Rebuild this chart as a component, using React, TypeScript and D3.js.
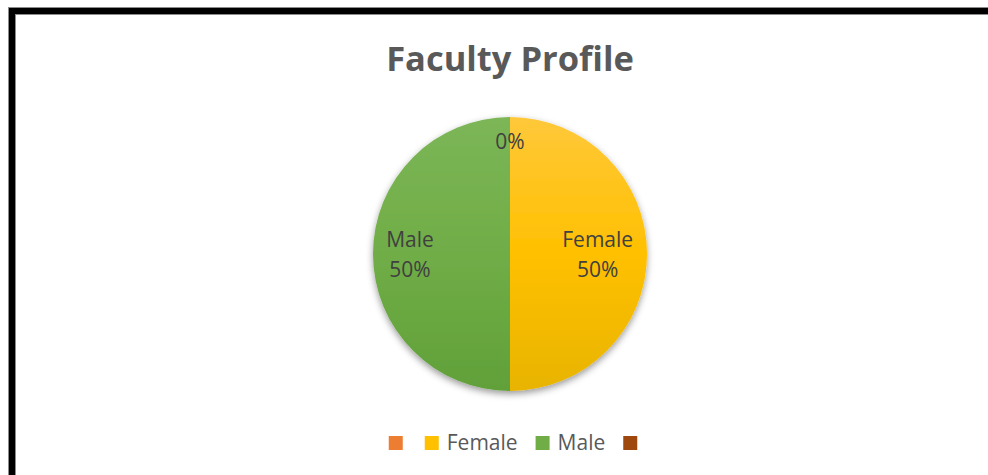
import React, { useEffect, useRef } from "react"
import * as d3 from "d3"

// chart data
const categories = ["", "Female", "Male", ""]
const values = [0, 50, 50, 0]
const showLabel = [true, true, true, false]
const colors = ["#ED7D31", "#FFC000", "#70AD47", "#9E480E"]
const lightColors = ["#F29A5C", "#FFC83A", "#7CB657", "#B0561A"]
const darkColors = ["#DC6C20", "#E8B400", "#61A039", "#8E3E0A"]
// label distance from centre, as a fraction of the radius
const labelRadius = [0.82, 0.64, 0.73, 0.82]

function App() {
  const svgRef = useRef<SVGSVGElement>(null)

  useEffect(() => {
    const WIDTH = 988
    const HEIGHT = 475
    const svg = d3.select(svgRef.current)
      .attr("width", WIDTH)
      .attr("height", HEIGHT)
    svg.selectAll("*").remove()

    const CX = 510
    const CY = 254
    const R = 137

    svg.append("rect")
      .attr("width", WIDTH).attr("height", HEIGHT).attr("fill", "#fff")

    // frame
    svg.append("rect")
      .attr("x", 12).attr("y", 11)
      .attr("width", 1200).attr("height", 800)
      .attr("fill", "none").attr("stroke", "#8c8c8c").attr("stroke-width", 8)
    svg.append("rect")
      .attr("x", 12).attr("y", 11)
      .attr("width", 1200).attr("height", 800)
      .attr("fill", "none").attr("stroke", "#000").attr("stroke-width", 6)

    const defs = svg.append("defs")
    const filter = defs.append("filter").attr("id", "shadow")
      .attr("x", "-20%").attr("y", "-20%").attr("width", "140%").attr("height", "140%")
    filter.append("feDropShadow")
      .attr("dx", 0).attr("dy", 3).attr("stdDeviation", 3.5)
      .attr("flood-color", "#000").attr("flood-opacity", 0.4)

    // gradients in the pie group's local coordinates
    colors.forEach((c, i) => {
      const g = defs.append("linearGradient")
        .attr("id", "grad" + i)
        .attr("gradientUnits", "userSpaceOnUse")
        .attr("x1", 0).attr("y1", -R).attr("x2", 0).attr("y2", R)
      g.append("stop").attr("offset", "0%").attr("stop-color", lightColors[i])
      g.append("stop").attr("offset", "50%").attr("stop-color", c)
      g.append("stop").attr("offset", "100%").attr("stop-color", darkColors[i])
    })

    // title
    svg.append("text")
      .attr("x", CX).attr("y", 71)
      .attr("text-anchor", "middle")
      .attr("font-family", "'Open Sans', sans-serif")
      .attr("font-weight", "bold")
      .attr("font-size", 34.5)
      .attr("fill", "#595959")
      .text("Faculty Profile")

    const pie = d3.pie<number>().value(d => d).sort(null)
    const arcs = pie(values)
    const arc = d3.arc<d3.PieArcDatum<number>>().innerRadius(0).outerRadius(R)

    const g = svg.append("g").attr("transform", `translate(${CX}, ${CY})`)
    g.append("g").attr("filter", "url(#shadow)")
      .selectAll("path")
      .data(arcs)
      .enter().append("path")
      .attr("d", arc)
      .attr("fill", (d, i) => `url(#grad${i})`)
      .attr("stroke", "none")

    const total = d3.sum(values)
    const fmt = d3.format(".0%")
    const labels = g.selectAll(".lbl")
      .data(arcs.filter((d, i) => showLabel[i]))
      .enter().append("text")
      .attr("class", "lbl")
      .attr("transform", d => {
        const lr = R * labelRadius[d.index]
        const c = d3.arc<d3.PieArcDatum<number>>().innerRadius(lr).outerRadius(lr).centroid(d)
        return `translate(${c[0]}, ${c[1]})`
      })
      .attr("text-anchor", "middle")
      .attr("font-family", "'Open Sans', sans-serif")
      .attr("font-size", 21)
      .attr("fill", "#404040")
    labels.each(function (d) {
      const t = d3.select(this)
      const name = categories[d.index]
      const pct = fmt(d.value / total)
      if (name) {
        t.append("tspan").attr("x", 0).attr("y", -7).text(name)
        t.append("tspan").attr("x", 0).attr("y", 23).text(pct)
      } else {
        t.append("tspan").attr("x", 0).attr("y", 7).text(pct)
      }
    })

    // legend, laid out from measured text widths
    const legend = svg.append("g")
    const items = categories.map((c, i) => {
      const item = legend.append("g")
      item.append("rect")
        .attr("x", 0).attr("y", 436)
        .attr("width", 14).attr("height", 14)
        .attr("fill", colors[i])
      let w = 14
      if (c) {
        const t = item.append("text")
          .attr("x", 14 + 8).attr("y", 450)
          .attr("font-family", "'Open Sans', sans-serif")
          .attr("font-size", 21)
          .attr("fill", "#595959")
          .text(c)
        w = 14 + 8 + (t.node() as SVGTextElement).getComputedTextLength()
      }
      return { item, w }
    })
    const gap = 18
    const totalW = d3.sum(items, d => d.w) + gap * (items.length - 1)
    let lx = CX + 1 - totalW / 2
    items.forEach(({ item, w }, i) => {
      item.attr("transform", `translate(${lx}, 0)`)
      lx += w + (i === 0 ? gap + 4 : gap)
    })
  }, [])

  return (
    <svg ref={svgRef} style={{ position: "absolute", left: 0, top: 0 }}></svg>
  )
}

export default App
